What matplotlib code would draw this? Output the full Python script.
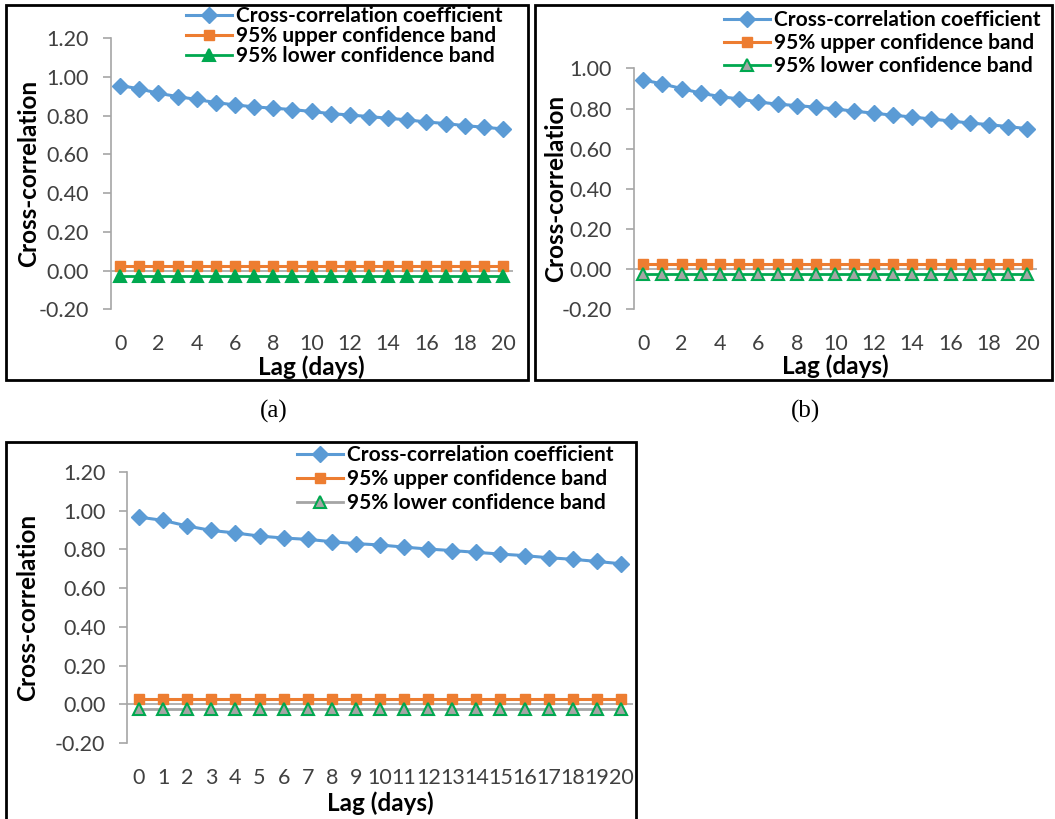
import matplotlib
matplotlib.use("Agg")
import matplotlib.pyplot as plt
from matplotlib.patches import Rectangle

plt.rcParams['font.family'] = ['Lato', 'DejaVu Sans']

# values
lags = list(range(21))
ccf_a = [0.955, 0.938, 0.915, 0.898, 0.883, 0.867, 0.855, 0.845, 0.838, 0.831, 0.821,
         0.810, 0.803, 0.795, 0.786, 0.778, 0.767, 0.759, 0.748, 0.740, 0.731]
ccf_b = [0.943, 0.923, 0.900, 0.877, 0.860, 0.848, 0.833, 0.822, 0.815, 0.807, 0.798,
         0.787, 0.777, 0.767, 0.758, 0.748, 0.738, 0.728, 0.720, 0.710, 0.700]
ccf_c = [0.967, 0.950, 0.921, 0.898, 0.885, 0.869, 0.859, 0.852, 0.840, 0.830, 0.823,
         0.812, 0.802, 0.794, 0.785, 0.776, 0.768, 0.757, 0.749, 0.738, 0.726]
upper_band = 0.025
lower_band = -0.025
series_names = ['Cross-correlation coefficient', '95% upper confidence band', '95% lower confidence band']
yticks_ac = [-0.2, 0.0, 0.2, 0.4, 0.6, 0.8, 1.0, 1.2]
yticks_b = [-0.2, 0.0, 0.2, 0.4, 0.6, 0.8, 1.0]

W, H = 1055, 819
BLUE = '#5B9BD5'
ORANGE = '#ED7D31'
GREEN = '#00A84F'
GREY = '#A5A5A5'
AXIS = '#A6A6A6'
TXT = '#404040'

fig = plt.figure(figsize=(W / 100, H / 100), dpi=100)
fig.patch.set_facecolor('white')


def px_rect(x0, x1, ytop, ybot):
    return [x0 / W, 1 - ybot / H, (x1 - x0) / W, (ybot - ytop) / H]


# frames around each panel
for (x0, x1, y0, y1) in [(6, 528, 5, 380), (535, 1052, 5, 380), (6, 636, 442, 823)]:
    fig.patches.append(Rectangle((x0 / W, 1 - y1 / H), (x1 - x0) / W, (y1 - y0) / H,
                                 transform=fig.transFigure, fill=False,
                                 edgecolor='black', linewidth=2.0))

panels = [
    dict(ccf=ccf_a, box=(110.5, 512.5, 38, 309.5), yticks=yticks_ac, step=2,
         low_line=GREEN, low_face=GREEN, leg=(186, 6), lsp=0.0, ylab_x=29, xlab_y=367),
    dict(ccf=ccf_b, box=(633.5, 1037, 68.5, 309), yticks=yticks_b, step=2,
         low_line=GREEN, low_face=GREY, leg=(724, 10), lsp=0.15, ylab_x=556, xlab_y=366),
    dict(ccf=ccf_c, box=(127, 633, 472, 743), yticks=yticks_ac, step=1,
         low_line=GREY, low_face=GREY, leg=(297, 445), lsp=0.2, ylab_x=28, xlab_y=803),
]

for p in panels:
    x0, x1, yt, yb = p['box']
    ax = fig.add_axes(px_rect(x0, x1, yt, yb))
    ax.set_facecolor('none')
    n = len(lags)
    ax.plot(lags, p['ccf'], color=BLUE, linewidth=2.2, marker='D', markersize=8.5,
            label=series_names[0], zorder=4)
    ax.plot(lags, [upper_band] * n, color=ORANGE, linewidth=2.2, marker='s', markersize=6.5,
            label=series_names[1], zorder=3)
    ax.plot(lags, [lower_band] * n, color=p['low_line'], linewidth=2.0, marker='^', markersize=8.5,
            markerfacecolor=p['low_face'], markeredgecolor=GREEN, markeredgewidth=1.5,
            label=series_names[2], zorder=3)
    ax.axhline(0, color=AXIS, linewidth=1.2, zorder=2)

    ax.set_xlim(-0.5, 20.5)
    ax.set_ylim(p['yticks'][0], p['yticks'][-1])
    ax.set_yticks(p['yticks'])
    ax.set_yticklabels(['%.2f' % v for v in p['yticks']])
    ax.set_xticks(lags[::p['step']])
    for s in ['top', 'right', 'bottom']:
        ax.spines[s].set_visible(False)
    ax.spines['left'].set_color(AXIS)
    ax.spines['left'].set_linewidth(1.2)
    ax.tick_params(axis='y', colors=AXIS, labelcolor=TXT, labelsize=15.5, length=5.5, width=1.2, pad=10)
    ax.tick_params(axis='x', length=0, labelcolor=TXT, labelsize=15.5, pad=18)

    ax.set_ylabel('Cross-correlation', fontsize=17.5, fontweight='bold', va='center')
    ax.yaxis.set_label_coords((p['ylab_x'] - x0) / (x1 - x0), 0.5)
    ax.set_xlabel('Lag (days)', fontsize=17.5, fontweight='bold', va='center')
    ax.xaxis.set_label_coords(0.5, (yb - p['xlab_y']) / (yb - yt))

    lx, ly = p['leg']
    ax.legend(loc='upper left', bbox_to_anchor=(lx / W, 1 - ly / H), bbox_transform=fig.transFigure,
              frameon=False, borderpad=0, borderaxespad=0, handlelength=2.2, handletextpad=0.2,
              labelspacing=p['lsp'], numpoints=1, prop={'weight': 'bold', 'size': 15})

fig.text(274 / W, 1 - 411 / H, '(a)', family='Liberation Serif', fontsize=18, ha='center', va='center')
fig.text(806 / W, 1 - 411 / H, '(b)', family='Liberation Serif', fontsize=18, ha='center', va='center')

fig.savefig('out.png', dpi=100, facecolor='white')
